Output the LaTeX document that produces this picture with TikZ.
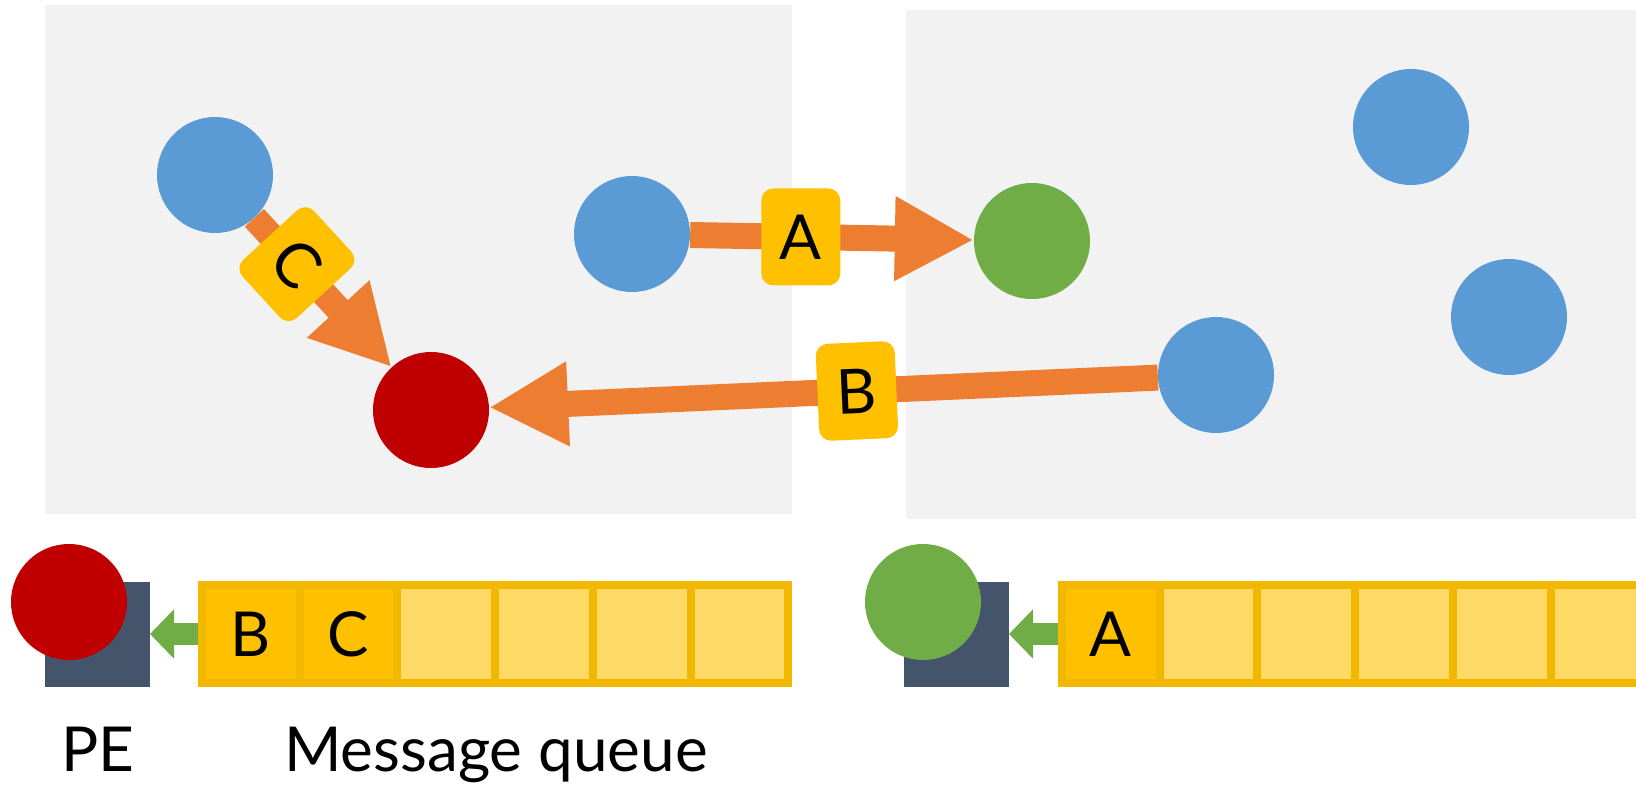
\documentclass[tikz,border=0pt]{standalone}
\usepackage{fontspec}
\setmainfont{Lato}
\usetikzlibrary{arrows.meta, positioning}
\definecolor{panelgray}{HTML}{F2F2F2}
\definecolor{myblue}{HTML}{5B9BD5}
\definecolor{mygreen}{HTML}{70AD47}
\definecolor{myred}{HTML}{C00000}
\definecolor{myorange}{HTML}{ED7D31}
\definecolor{msgyellow}{HTML}{FFC000}
\definecolor{lightyellow}{HTML}{FFD966}
\definecolor{cellborder}{HTML}{F2B800}
\definecolor{peslate}{HTML}{44546A}
\tikzset{
  pe/.style={circle, minimum size=116pt, inner sep=0pt},
  msg/.style={fill=msgyellow, text=black, rounded corners=12pt, minimum width=79pt, minimum height=97pt, inner sep=0pt, font=\fontsize{62}{62}\selectfont},
  send/.style={myorange, line width=26pt, -{Triangle[length=79pt, width=79pt]}},
  fetch/.style={mygreen, line width=22pt, -{Triangle[length=24pt, width=48pt]}},
  cell/.style={draw=cellborder, line width=8pt, fill=lightyellow, minimum width=97.7pt, minimum height=98pt, inner sep=0pt, outer sep=0pt, font=\fontsize{62}{62}\selectfont},
  fullcell/.style={cell, fill=msgyellow},
  proc/.style={fill=peslate, minimum size=105pt, inner sep=0pt, outer sep=0pt},
}
\begin{document}
\begin{tikzpicture}[x=1pt, y=-1pt]
  \path[use as bounding box, clip] (0,0) rectangle (1636,789);
  % Panels
  \fill[panelgray] (45,5) rectangle (792,514);
  \fill[panelgray] (906,10) rectangle (1636,519);
  % PEs left
  \node[pe, fill=myblue] (b1) at (215,175) {};
  \node[pe, fill=myred] (r) at (431,410) {};
  \node[pe, fill=myblue] (b2) at (632,234) {};
  % PEs right
  \node[pe, fill=mygreen] (g) at (1032,241) {};
  \node[pe, fill=myblue] (b3) at (1411,127) {};
  \node[pe, fill=myblue] (b4) at (1509,317) {};
  \node[pe, fill=myblue] (b5) at (1216,375) {};
  % Messages
  \draw[send] (b2) -- node[msg, pos=0.39] (la) {A} (g);
  \draw[send] (b5) -- node[msg, sloped, pos=0.45] (lb) {B} (r);
  \draw[send] (b1) -- node[msg, sloped, pos=0.31] (lc) {C} (r);
  % Left queue
  \node[fullcell] (lq1) at (250.85,634) {B};
  \node[fullcell, right=0pt of lq1] (lq2) {C};
  \foreach \i [count=\j from 2] in {3,...,6}
    \node[cell, right=0pt of lq\j] (lq\i) {};
  \node[proc] (lp) at (97.5,634) {};
  \node[pe, fill=myred] (lpc) at (69,602) {};
  \draw[fetch, shorten <=4pt] (lq1.west) -- (lp.east);
  % Right queue
  \node[fullcell] (rq1) at (1110.85,634) {A};
  \foreach \i [count=\j from 1] in {2,...,6}
    \node[cell, right=0pt of rq\j] (rq\i) {};
  \node[proc] (rp) at (956.5,634) {};
  \node[pe, fill=mygreen] (rpc) at (923,602) {};
  \draw[fetch, shorten <=4pt] (rq1.west) -- (rp.east);
  % Labels
  \node[font=\fontsize{62}{62}\selectfont, anchor=base] (pelabel) at (98,771) {PE};
  \node[font=\fontsize{62}{62}\selectfont, anchor=base] (mqlabel) at (496,771) {Message queue};
\end{tikzpicture}
\end{document}
